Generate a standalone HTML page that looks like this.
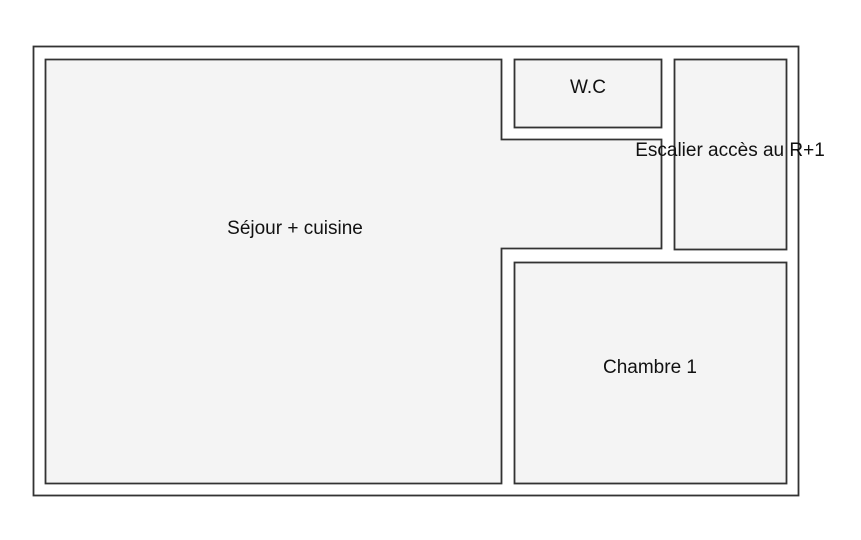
<!DOCTYPE html>
<html><head><meta charset="utf-8"><style>
html,body{margin:0;padding:0;background:#fff;}
svg{display:block;}
text{font-family:"Liberation Sans",sans-serif;font-size:19px;fill:#111;}
</style></head><body>
<svg width="861" height="540" viewBox="0 0 861 540">
<rect x="0" y="0" width="861" height="540" fill="#fff"/>
<rect x="33.5" y="46.5" width="765" height="449" fill="#fff" stroke="#333" stroke-width="1.8"/>
<polygon points="45.5,59.5 501.5,59.5 501.5,139.5 661.5,139.5 661.5,248.5 501.5,248.5 501.5,483.5 45.5,483.5" fill="#f4f4f4" stroke="#333" stroke-width="1.8"/>
<rect x="514.5" y="59.5" width="147" height="68" fill="#f4f4f4" stroke="#333" stroke-width="1.8"/>
<rect x="674.5" y="59.5" width="112" height="190" fill="#f4f4f4" stroke="#333" stroke-width="1.8"/>
<rect x="514.5" y="262.5" width="272" height="221" fill="#f4f4f4" stroke="#333" stroke-width="1.8"/>
<text x="295" y="234" text-anchor="middle">Séjour + cuisine</text>
<text x="588" y="93" text-anchor="middle">W.C</text>
<text x="730" y="156" text-anchor="middle">Escalier accès au R+1</text>
<text x="650" y="373" text-anchor="middle">Chambre 1</text>
</svg>
</body></html>
